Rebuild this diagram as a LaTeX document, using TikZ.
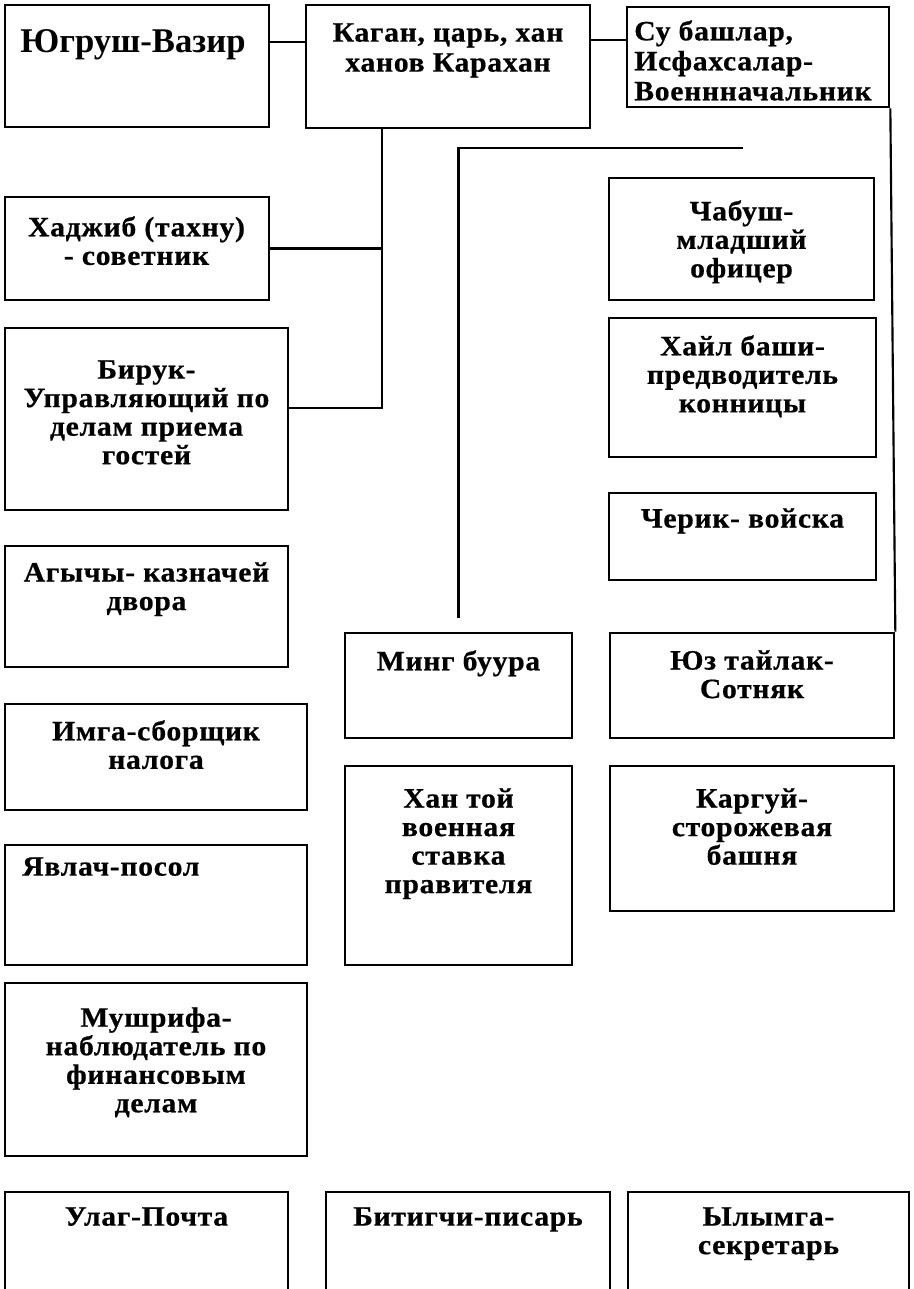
\documentclass[tikz,border=0pt]{standalone}
\usepackage{fontspec}
\setmainfont{Liberation Serif}
\newfontfamily\boxfont[LetterSpace=2.5, FakeStretch=1.06, BoldFeatures={FakeBold=0.6}]{Liberation Serif}
\usetikzlibrary{fit}

\tikzset{
  box/.style={draw, line width=2pt, inner sep=0pt},
  lbl/.style={font=\boxfont\bfseries\fontsize{21}{21.4}\selectfont, align=center, anchor=north, inner sep=0pt},
  toplbl/.style={lbl, font=\boxfont\bfseries\fontsize{21}{22.5}\selectfont},
  conn/.style={line width=1.6pt}
}

\begin{document}
\begin{tikzpicture}[x=0.75pt, y=0.75pt]
  \useasboundingbox (0,0) rectangle (914,-1289);

  \node[box, fit={(5,-5) (269,-127)}] (ugrush) {};
  \node[box, fit={(306,-5) (590,-128)}] (kagan) {};
  \node[box, fit={(627,-7) (889,-107)}] (su) {};
  \node[box, fit={(5,-197) (269,-300)}] (hadzhib) {};
  \node[box, fit={(5,-328) (288,-510)}] (biruk) {};
  \node[box, fit={(5,-546) (288,-667)}] (agychy) {};
  \node[box, fit={(5,-704) (307,-810)}] (imga) {};
  \node[box, fit={(5,-845) (307,-965)}] (yavlach) {};
  \node[box, fit={(5,-983) (307,-1156)}] (mushrifa) {};
  \node[box, fit={(5,-1192) (288,-1300)}] (ulag) {};
  \node[box, fit={(326,-1192) (610,-1300)}] (bitigchi) {};
  \node[box, fit={(628,-1192) (909,-1300)}] (ylymga) {};
  \node[box, fit={(609,-178) (874,-300)}] (chabush) {};
  \node[box, fit={(609,-318) (876,-457)}] (khail) {};
  \node[box, fit={(609,-493) (876,-580)}] (cherik) {};
  \node[box, fit={(345,-633) (572,-738)}] (ming) {};
  \node[box, fit={(610,-633) (894,-738)}] (yuz) {};
  \node[box, fit={(345,-766) (572,-965)}] (khantoy) {};
  \node[box, fit={(610,-766) (894,-911)}] (kargui) {};

  \node[lbl, anchor=north west, font=\bfseries\fontsize{26}{28}\selectfont] (ugrush-t) at (20,-29) {Югруш-Вазир};
  \node[toplbl] (kagan-t) at (448,-23) {Каган, царь, хан\\ханов Карахан};
  \node[toplbl, anchor=north west, align=left] (su-t) at (634,-20) {Су башлар,\\Исфахсалар-\\Военнначальник};
  \node[lbl] (hadzhib-t) at (136.5,-216) {Хаджиб (тахну)\\- советник};
  \node[lbl] (biruk-t) at (146.5,-360) {Бирук-\\Управляющий по\\делам приема\\гостей};
  \node[lbl] (agychy-t) at (146.5,-562) {Агычы- казначей\\двора};
  \node[lbl] (imga-t) at (156,-720) {Имга-сборщик\\налога};
  \node[lbl, anchor=north west, align=left] (yavlach-t) at (22,-857) {Явлач-посол};
  \node[lbl] (mushrifa-t) at (156,-1007) {Мушрифа-\\наблюдатель по\\финансовым\\делам};
  \node[lbl] (ulag-t) at (146.5,-1207) {Улаг-Почта};
  \node[lbl] (bitigchi-t) at (468,-1207) {Битигчи-писарь};
  \node[lbl] (ylymga-t) at (768.5,-1207) {Ылымга-\\секретарь};
  \node[lbl] (chabush-t) at (741.5,-200) {Чабуш-\\младший\\офицер};
  \node[lbl] (khail-t) at (742.5,-335) {Хайл баши-\\предводитель\\конницы};
  \node[lbl] (cherik-t) at (742.5,-508) {Черик- войска};
  \node[lbl] (ming-t) at (458.5,-650) {Минг буура};
  \node[lbl] (yuz-t) at (752,-650) {Юз тайлак-\\Сотняк};
  \node[lbl] (khantoy-t) at (458.5,-788) {Хан той\\военная\\ставка\\правителя};
  \node[lbl] (kargui-t) at (752,-788) {Каргуй-\\сторожевая\\башня};

  \coordinate (row1) at (0,-42);
  \coordinate (row2) at (0,-40);
  \coordinate (trunk) at (382,-408);
  \coordinate (army) at (743,-148);

  \draw[conn] (ugrush.east |- row1) -- (kagan.west |- row1);
  \draw[conn] (kagan.east |- row2) -- (su.west |- row2);
  \draw[conn] (kagan.south -| trunk) -- (trunk) -- (biruk.east |- trunk);
  \draw[conn] (hadzhib.east) -- (hadzhib.east -| trunk);
  \draw[conn] (army) -| ([yshift=10.5pt]ming.north);
  \draw[conn] (su.south east) -- (yuz.north east);
\end{tikzpicture}
\end{document}
